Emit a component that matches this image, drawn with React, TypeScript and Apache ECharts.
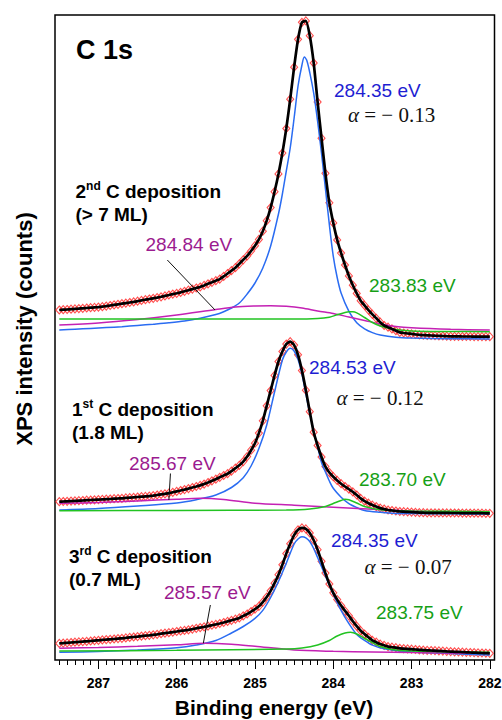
import React, { useEffect, useRef } from 'react';
import * as echarts from 'echarts';

// Binding energy grid of the measured points (eV)
const energy = [
  287.50, 287.45, 287.40, 287.35, 287.30, 287.25, 287.20, 287.15, 287.10, 287.05,
  287.00, 286.95, 286.90, 286.85, 286.80, 286.75, 286.70, 286.65, 286.60, 286.55,
  286.50, 286.45, 286.40, 286.35, 286.30, 286.25, 286.20, 286.15, 286.10, 286.05,
  286.00, 285.95, 285.90, 285.85, 285.80, 285.75, 285.70, 285.65, 285.60, 285.55,
  285.50, 285.45, 285.40, 285.35, 285.30, 285.25, 285.20, 285.15, 285.10, 285.05,
  285.00, 284.95, 284.90, 284.85, 284.80, 284.75, 284.70, 284.65, 284.60, 284.55,
  284.50, 284.45, 284.40, 284.35, 284.30, 284.25, 284.20, 284.15, 284.10, 284.05,
  284.00, 283.95, 283.90, 283.85, 283.80, 283.75, 283.70, 283.65, 283.60, 283.55,
  283.50, 283.45, 283.40, 283.35, 283.30, 283.25, 283.20, 283.15, 283.10, 283.05,
  283.00, 282.95, 282.90, 282.85, 282.80, 282.75, 282.70, 282.65, 282.60, 282.55,
  282.50, 282.45, 282.40, 282.35, 282.30, 282.25, 282.20, 282.15, 282.10, 282.05,
  282.00,
];

// 2nd C deposition (> 7 ML) — measured intensity (stacked, arb. units)
const dep2Data = [
  350.0, 350.3, 350.5, 350.8, 351.1, 351.4, 351.7, 352.0, 352.3, 352.6,
  352.9, 353.3, 353.9, 354.5, 355.1, 355.7, 356.3, 356.9, 357.5, 358.1,
  358.8, 359.6, 360.3, 361.0, 361.7, 362.4, 363.2, 364.1, 365.0, 365.9,
  366.7, 367.6, 368.7, 369.8, 370.9, 372.0, 373.0, 374.6, 376.2, 377.7,
  379.3, 380.9, 383.6, 386.5, 389.4, 392.3, 396.2, 400.2, 404.1, 409.0,
  414.3, 420.6, 428.8, 439.3, 452.4, 468.3, 486.1, 506.9, 531.5, 560.8,
  592.8, 620.7, 637.7, 639.1, 624.3, 597.0, 558.0, 521.8, 486.7, 457.2,
  437.1, 420.1, 407.0, 395.0, 384.1, 374.8, 366.6, 359.3, 354.6, 349.9,
  345.6, 341.7, 337.8, 334.5, 332.8, 331.1, 329.3, 327.6, 327.0, 326.5,
  326.1, 325.6, 325.1, 324.9, 324.7, 324.5, 324.3, 324.2, 324.0, 323.8,
  323.7, 323.6, 323.6, 323.5, 323.5, 323.5, 323.4, 323.4, 323.4, 323.3,
  323.3,
];

// 1st C deposition (1.8 ML)
const dep1Data = [
  158.3, 158.5, 158.7, 158.9, 159.1, 159.3, 159.5, 159.8, 160.0, 160.2,
  160.4, 160.6, 160.8, 161.0, 161.3, 161.5, 161.7, 162.1, 162.3, 162.7,
  163.0, 163.3, 163.6, 163.9, 164.4, 165.0, 165.6, 166.2, 166.8, 167.7,
  168.6, 169.5, 170.4, 171.4, 172.5, 173.5, 174.6, 175.9, 177.5, 179.2,
  180.8, 182.7, 184.5, 186.3, 188.9, 191.8, 194.7, 198.4, 203.4, 209.8,
  216.8, 226.9, 239.2, 254.2, 269.4, 284.6, 298.5, 308.5, 315.9, 318.3,
  314.9, 305.2, 289.4, 269.8, 248.3, 227.8, 214.5, 203.0, 193.4, 187.5,
  183.3, 179.6, 176.3, 173.5, 170.8, 168.2, 165.0, 161.6, 158.9, 156.8,
  154.9, 153.4, 151.9, 151.0, 150.0, 149.5, 149.0, 148.5, 148.3, 148.1,
  147.9, 147.7, 147.4, 147.3, 147.2, 147.2, 147.2, 147.1, 147.1, 147.1,
  147.0, 147.0, 147.0, 146.9, 146.9, 146.9, 146.8, 146.8, 146.8, 146.7,
  146.7,
];

// 3rd C deposition (0.7 ML)
const dep3Data = [
  16.6, 16.9, 17.2, 17.5, 17.8, 18.1, 18.4, 18.7, 19.0, 19.4,
  19.7, 20.1, 20.4, 20.7, 21.0, 21.4, 21.7, 22.1, 22.6, 23.0,
  23.4, 23.9, 24.3, 24.7, 25.2, 25.7, 26.3, 26.8, 27.3, 27.9,
  28.5, 29.1, 29.6, 30.2, 30.9, 31.7, 32.4, 33.1, 33.9, 34.8,
  35.6, 36.5, 37.5, 38.6, 39.7, 40.8, 42.1, 44.1, 46.0, 48.4,
  50.9, 53.7, 57.9, 63.0, 69.2, 76.8, 85.3, 95.2, 106.4, 116.2,
  124.8, 130.2, 132.1, 131.1, 127.0, 119.8, 110.3, 98.7, 86.9, 76.0,
  67.2, 60.4, 54.4, 49.1, 44.2, 38.8, 33.8, 29.3, 25.9, 22.7,
  19.7, 17.8, 15.9, 14.7, 13.4, 12.8, 12.3, 11.7, 11.4, 11.1,
  10.8, 10.5, 10.2, 9.9, 9.7, 9.5, 9.3, 9.1, 8.9, 8.6,
  8.4, 8.2, 8.1, 7.9, 7.7, 7.5, 7.4, 7.2, 7.0, 6.9,
  6.7,
];

// Fitted components [eV, intensity]
const dep2Blue = [
  [287.5, 330], [287.3, 330.8], [287.1, 331.6], [286.9, 332.4], [286.7, 333.3], [286.5, 334.5],
  [286.3, 335.8], [286.1, 337.2], [285.9, 339], [285.7, 341.8], [285.5, 345.5], [285.4, 348.3],
  [285.3, 352], [285.2, 357], [285.1, 366], [285.0, 377], [284.9, 392], [284.8, 414],
  [284.7, 446], [284.65, 466], [284.6, 489], [284.55, 512], [284.5, 542], [284.45, 574],
  [284.4, 595], [284.37, 603], [284.34, 600], [284.3, 587.4], [284.25, 566.8], [284.2, 538.8],
  [284.15, 506.6], [284.1, 471.3], [284.05, 435.3], [284.0, 403.9], [283.95, 382.5],
  [283.9, 367], [283.8, 348.6], [283.7, 337.3], [283.6, 331.2], [283.5, 327.4],
  [283.4, 325], [283.2, 322.8], [283.0, 322], [282.5, 321.3], [282.0, 321],
];
const dep2Magenta = [
  [287.5, 335], [287.0, 337], [286.5, 340.5], [286.0, 345], [285.5, 350.5], [285.25, 353],
  [285.0, 354], [284.8, 354.3], [284.6, 353.7], [284.4, 352], [284.2, 349], [284.0, 346.5],
  [283.8, 343], [283.6, 339.5], [283.4, 336], [283.2, 333.5], [283.0, 332.2], [282.5, 330.7],
  [282.0, 330],
];
const dep2Green = [
  [287.5, 341], [286.5, 341], [285.5, 341], [284.5, 341], [284.2, 341.5], [284.05, 342.8],
  [283.95, 345.2], [283.85, 347.5], [283.8, 348.2], [283.75, 348.2], [283.7, 347.2],
  [283.6, 342.5], [283.5, 337.5], [283.4, 334], [283.25, 331], [283.0, 329], [282.5, 328.5],
  [282.0, 328.3],
];

const dep1Blue = [
  [287.5, 150], [287.0, 151.5], [286.5, 154], [286.0, 157], [285.75, 160.3], [285.5, 165],
  [285.3, 172.5], [285.15, 182.3], [285.05, 194], [284.95, 211.4], [284.85, 235],
  [284.75, 268], [284.65, 300], [284.6, 308], [284.55, 311.7], [284.5, 309], [284.45, 300.5],
  [284.4, 286], [284.35, 266.3], [284.3, 246.7], [284.25, 229.1], [284.2, 213.5],
  [284.15, 197.5], [284.1, 188], [284.05, 179], [284.0, 171.7], [283.9, 162.8],
  [283.8, 156.4], [283.7, 152.5], [283.6, 149.5], [283.4, 147.7], [283.2, 146.6],
  [283.0, 146.4], [282.5, 146.2], [282.0, 146],
];
const dep1Magenta = [
  [287.5, 156.7], [287.0, 157.5], [286.5, 159], [286.0, 160.8], [285.7, 161.7], [285.4, 160.5],
  [285.0, 156.8], [284.5, 154.8], [284.0, 152.7], [283.5, 150.7], [283.0, 148.9],
  [282.5, 147.9], [282.0, 147.3],
];
const dep1Green = [
  [287.5, 149.3], [286.0, 149.5], [284.6, 150], [284.3, 151], [284.1, 153.5], [284.0, 156.5],
  [283.9, 159.5], [283.85, 160.7], [283.8, 160.2], [283.7, 157], [283.6, 153.5],
  [283.45, 150.8], [283.25, 149.5], [283.0, 149], [282.0, 148.3],
];

const dep3Blue = [
  [287.5, 7.7], [287.0, 8.5], [286.5, 10], [286.0, 12.2], [285.75, 15], [285.5, 19.5],
  [285.3, 27], [285.15, 33.5], [285.0, 41.6], [284.9, 49.6], [284.8, 62.5], [284.7, 78.5],
  [284.6, 96.8], [284.5, 116], [284.45, 121], [284.4, 123.2], [284.35, 122.2], [284.3, 118.5],
  [284.25, 111.5], [284.2, 102.5], [284.1, 84.1], [284.0, 65.9], [283.9, 49.7], [283.8, 36.4],
  [283.7, 25.5], [283.6, 19.6], [283.5, 14.9], [283.35, 11.3], [283.0, 8], [282.5, 6.5],
  [282.0, 5],
];
const dep3Magenta = [
  [287.5, 11.7], [287.0, 12.5], [286.5, 13.7], [286.0, 15.2], [285.65, 16.7], [285.3, 15.8],
  [285.0, 13.7], [284.5, 10], [284.0, 8.7], [283.5, 8], [283.0, 7.4], [282.0, 6.7],
];
const dep3Green = [
  [287.5, 9], [286.0, 9.7], [284.6, 11], [284.4, 12], [284.2, 15], [284.05, 19.5],
  [283.95, 24], [283.85, 27], [283.78, 27.7], [283.7, 26], [283.6, 21.5], [283.5, 17.5],
  [283.4, 13.5], [283.25, 10.5], [283.0, 9], [282.0, 7.7],
];

// Leader lines from peak labels to the broad components
const leaderLines = [
  [[286.12, 400], [285.51, 350]],
  [[286.08, 186.5], [286.1, 160]],
  [[285.57, 55], [285.66, 16.7]],
];

const majorTicks = [282, 283, 284, 285, 286, 287];

const SANS = '"Liberation Sans", Arial, Helvetica, sans-serif';
const SERIF = '"Liberation Serif", "Times New Roman", serif';
const C_BLUE_LINE = '#2a6cf2';
const C_MAG_LINE = '#c421b4';
const C_GREEN_LINE = '#22c322';
const C_BLUE_TXT = '#1e1ed2';
const C_MAG_TXT = '#9b1b8f';
const C_GREEN_TXT = '#16a016';
const C_RED = '#ff2222';

export default function App() {
  const ref = useRef<HTMLDivElement>(null);

  useEffect(() => {
    if (!ref.current) return;
    const chart = echarts.init(ref.current, undefined, { renderer: 'svg' });

    const minorTicks: number[] = [];
    for (let k = 0; k <= 55; k++) {
      const v = Math.round((282 + k * 0.1) * 10) / 10;
      if (Math.abs(v - Math.round(v)) > 1e-6) minorTicks.push(v);
    }

    const spectra = [
      { data: dep2Data, blue: dep2Blue, magenta: dep2Magenta, green: dep2Green },
      { data: dep1Data, blue: dep1Blue, magenta: dep1Magenta, green: dep1Green },
      { data: dep3Data, blue: dep3Blue, magenta: dep3Magenta, green: dep3Green },
    ];

    const series: any[] = [];
    spectra.forEach((s) => {
      const pts = energy.map((e, i) => [e, s.data[i]]);
      series.push({
        type: 'scatter',
        data: pts,
        symbol: 'diamond',
        symbolSize: [7, 8],
        itemStyle: { color: 'rgba(255,255,255,0)', borderColor: C_RED, borderWidth: 1.1 },
        z: 2,
        silent: true,
      });
      [
        [s.blue, C_BLUE_LINE],
        [s.magenta, C_MAG_LINE],
        [s.green, C_GREEN_LINE],
      ].forEach(([d, c]) => {
        series.push({
          type: 'line',
          data: d,
          showSymbol: false,
          smooth: 0.3,
          lineStyle: { color: c, width: 1.5 },
          z: 3,
          silent: true,
        });
      });
      series.push({
        type: 'line',
        data: pts,
        showSymbol: false,
        smooth: 0.2,
        lineStyle: { color: '#000', width: 2.7 },
        z: 4,
        silent: true,
      });
    });
    leaderLines.forEach((l) => {
      series.push({
        type: 'line',
        data: l,
        showSymbol: false,
        lineStyle: { color: '#111', width: 1 },
        z: 5,
        silent: true,
      });
    });

    const label = (text: string, x: number, y: number, color: string) => ({
      type: 'text',
      x,
      y,
      style: {
        text,
        fill: color,
        fontFamily: SANS,
        fontSize: 19,
        align: 'left',
        verticalAlign: 'middle',
      },
    });
    const alpha = (val: string, x: number, y: number) => ({
      type: 'text',
      x,
      y,
      style: {
        text: `{i|α}{r| = − ${val}}`,
        fill: '#111',
        align: 'left',
        verticalAlign: 'middle',
        rich: {
          i: { fontFamily: SERIF, fontSize: 21, fontStyle: 'italic', fill: '#111' },
          r: { fontFamily: SERIF, fontSize: 21, fill: '#111' },
        },
      },
    });
    const dep = (num: string, sup: string, amount: string, x: number, y: number) => ({
      type: 'text',
      x,
      y,
      style: {
        text: `{n|${num}}{s|${sup}}{n| C deposition}\n{n|${amount}}`,
        fill: '#000',
        align: 'left',
        verticalAlign: 'top',
        rich: {
          n: { fontFamily: SANS, fontSize: 19, fontWeight: 'bold', lineHeight: 23, verticalAlign: 'middle', fill: '#000' },
          s: { fontFamily: SANS, fontSize: 12, fontWeight: 'bold', lineHeight: 5, verticalAlign: 'top', fill: '#000' },
        },
      },
    });

    const option: any = {
      animation: false,
      grid: {
        left: 55,
        top: 15,
        width: 439.5,
        height: 645,
        show: true,
        borderColor: '#000',
        borderWidth: 1.5,
        backgroundColor: 'transparent',
        containLabel: false,
        outerBoundsMode: 'none',
      },
      xAxis: [
        {
          type: 'value',
          min: 281.94,
          max: 287.555,
          inverse: true,
          position: 'bottom',
          axisLine: { show: false },
          splitLine: { show: false },
          axisTick: {
            show: true,
            inside: false,
            length: 9,
            lineStyle: { color: '#000', width: 1 },
            customValues: majorTicks,
          },
          axisLabel: {
            show: true,
            customValues: majorTicks,
            margin: 16,
            fontSize: 14,
            fontWeight: 'bold',
            fontFamily: SANS,
            color: '#000',
          },
        },
        {
          type: 'value',
          min: 281.94,
          max: 287.555,
          inverse: true,
          position: 'bottom',
          axisLine: { show: false },
          splitLine: { show: false },
          axisTick: {
            show: true,
            inside: false,
            length: 5,
            lineStyle: { color: '#000', width: 1 },
            customValues: minorTicks,
          },
          axisLabel: { show: false },
        },
      ],
      yAxis: { type: 'value', min: 0, max: 645, show: false },
      series,
      graphic: [
        {
          type: 'text',
          x: 76,
          y: 50,
          style: { text: 'C 1s', fill: '#000', fontFamily: SANS, fontSize: 27, fontWeight: 'bold', align: 'left', verticalAlign: 'middle' },
        },
        dep('2', 'nd', '(> 7 ML)', 75.5, 180.2),
        dep('1', 'st', '(1.8 ML)', 72, 397.5),
        dep('3', 'rd', '(0.7 ML)', 69, 545.2),
        label('284.35 eV', 334, 90.5, C_BLUE_TXT),
        alpha('0.13', 348, 114.5),
        label('284.84 eV', 145.5, 244.3, C_MAG_TXT),
        label('283.83 eV', 369, 285.3, C_GREEN_TXT),
        label('284.53 eV', 309, 367.5, C_BLUE_TXT),
        alpha('0.12', 336.5, 397.5),
        label('285.67 eV', 129, 463, C_MAG_TXT),
        label('283.70 eV', 359, 479, C_GREEN_TXT),
        label('284.35 eV', 331, 540, C_BLUE_TXT),
        alpha('0.07', 364.5, 566.7),
        label('285.57 eV', 164, 592.5, C_MAG_TXT),
        label('283.75 eV', 376, 612.5, C_GREEN_TXT),
        {
          type: 'text',
          x: 274,
          y: 707,
          style: { text: 'Binding energy (eV)', fill: '#000', fontFamily: SANS, fontSize: 21, fontWeight: 'bold', align: 'center', verticalAlign: 'middle' },
        },
        {
          type: 'text',
          x: 24,
          y: 329,
          rotation: Math.PI / 2,
          style: { text: 'XPS intensity (counts)', fill: '#000', fontFamily: SANS, fontSize: 22, fontWeight: 'bold', align: 'center', verticalAlign: 'middle' },
        },
      ],
    };

    chart.setOption(option);
    return () => chart.dispose();
  }, []);

  return (
    <div
      ref={ref}
      style={{ position: 'absolute', left: 0, top: 0, width: 502, height: 720 }}
    />
  );
}
